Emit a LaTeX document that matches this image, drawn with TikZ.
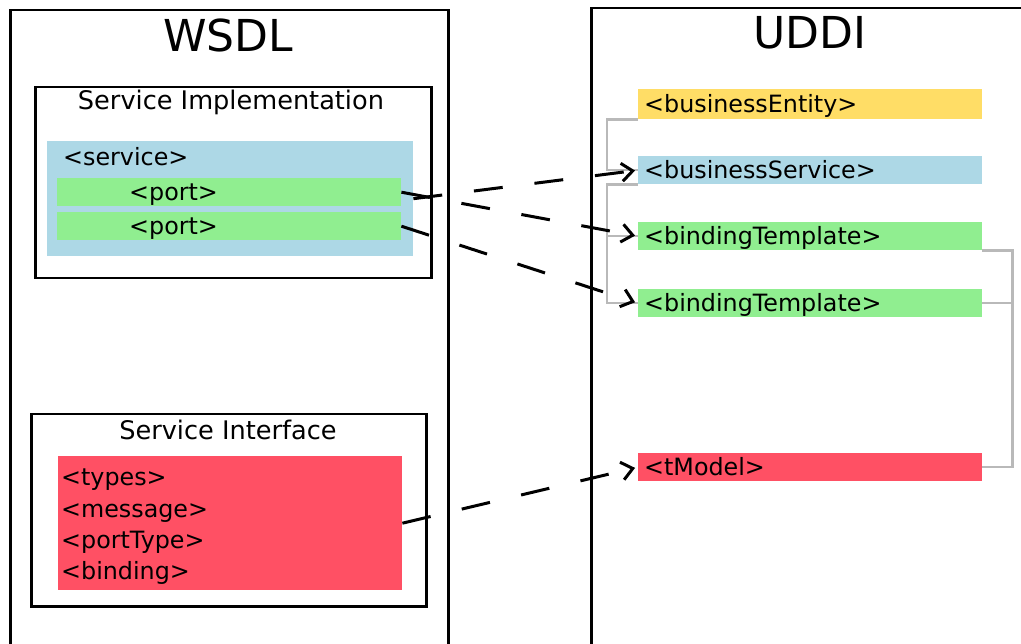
\documentclass[tikz,border=0pt]{standalone}
\usepackage{fontspec}
\setmainfont{DejaVu Sans}
\usetikzlibrary{arrows.meta}
\definecolor{svcblue}{RGB}{173,216,230}
\definecolor{portgreen}{RGB}{144,238,144}
\definecolor{entgold}{RGB}{255,221,102}
\definecolor{ifred}{RGB}{255,80,100}
\definecolor{linkgray}{RGB}{185,185,185}
\tikzset{
  frame/.style={draw=black, line width=2.5pt, inner sep=0pt, anchor=north west},
  bigtitle/.style={inner sep=0pt, font=\fontsize{44}{50}\selectfont},
  subtitle/.style={inner sep=0pt, font=\fontsize{25.6}{30}\selectfont},
  entry/.style={anchor=north west, inner sep=0pt, inner xsep=6pt,
    text width=332pt, minimum height=28pt, text height=21pt, text depth=4pt,
    align=left, font=\fontsize{23.8}{28}\selectfont},
  plain/.style={inner sep=0pt, text height=21pt, text depth=4pt,
    font=\fontsize{23.8}{28}\selectfont},
  link/.style={draw=linkgray, line width=2.5pt},
  ref/.style={draw=black, line width=3pt, dash pattern=on 29pt off 32pt,
    -{Straight Barb[length=11pt,width=18pt,line width=3pt]}, shorten >=3pt}
}
\begin{document}
\begin{tikzpicture}[x=1pt,y=-1pt]
\useasboundingbox (0,0) rectangle (1021,644);
\clip (0,0) rectangle (1021,644);

% outer frames
\node[frame, minimum width=438pt, minimum height=700pt] (wsdl) at (9,9) {};
\node[frame, minimum width=500pt, minimum height=700pt] (uddi) at (590,7) {};
\node[bigtitle] (wsdlt) at (228,35) {WSDL};
\node[bigtitle] (uddit) at (810,33) {UDDI};

% WSDL: service implementation
\node[frame, minimum width=396pt, minimum height=191pt] (impl) at (34,86) {};
\node[subtitle] (implt) at (231,102) {Service Implementation};
\node[anchor=north west, fill=svcblue, inner sep=0pt,
      minimum width=366pt, minimum height=115pt] (service) at (47,141) {};
\node[plain, anchor=west] (svclabel) at (63,157) {<service>};
\node[entry, fill=portgreen] (port1) at (57,178) {\hspace*{66pt}<port>};
\node[entry, fill=portgreen] (port2) at (57,212) {\hspace*{66pt}<port>};

% WSDL: service interface
\node[frame, minimum width=395pt, minimum height=192pt] (iface) at (30,413) {};
\node[subtitle] (ifacet) at (228,430) {Service Interface};
\node[anchor=north west, fill=ifred, inner sep=0pt,
      minimum width=344pt, minimum height=134pt] (types) at (58,456) {};
\node[anchor=west, inner sep=0pt, align=left,
      font=\fontsize{23.8}{31.3}\selectfont] (typeslist) at (61,527)
      {<types>\\<message>\\<portType>\\<binding>};

% UDDI entries
\node[entry, fill=entgold, minimum height=30pt] (be) at (638,89) {<businessEntity>};
\node[entry, fill=svcblue] (bs) at (638,156) {<businessService>};
\node[entry, fill=portgreen] (bt1) at (638,222) {<bindingTemplate>};
\node[entry, fill=portgreen] (bt2) at (638,289) {<bindingTemplate>};
\node[entry, fill=ifred] (tm) at (638,453) {<tModel>};

% containment links
\draw[link] (be.south west) -- ++(-31,0) |- (bs.west);
\draw[link] (bs.south west) -- ++(-31,0) coordinate (lk) |- (bt2.west);
\draw[link] (lk) |- (bt1.west);
\draw[link] (bt1.south east) -- ++(30,0) coordinate (rk) |- (tm.east);
\draw[link] (bt2.east) -- (bt2.east -| rk);

% mapping references
\draw[ref] (service.east) -- (bs.west);
\draw[ref] (port1.east) -- (bt1.west);
\draw[ref] (port2.east) -- (bt2.west);
\draw[ref] (types.east) -- (tm.west);
\end{tikzpicture}
\end{document}
